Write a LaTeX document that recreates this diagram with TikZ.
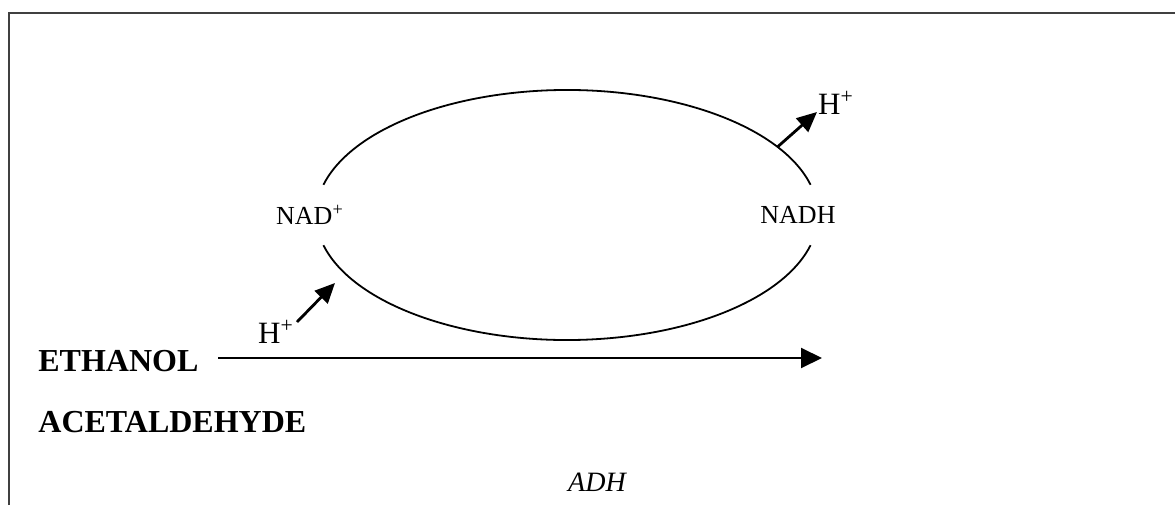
\documentclass[tikz,border=0pt]{standalone}
\usepackage{fontspec}
\setmainfont{Liberation Serif}
\usetikzlibrary{calc,arrows.meta}

\begin{document}
\begin{tikzpicture}[x=0.5pt,y=0.5pt,
     lbl/.style={inner sep=0pt,font=\fontsize{13}{15}\selectfont},
     hp/.style={inner sep=0pt,font=\fontsize{15.5}{18}\selectfont},
     sub/.style={inner sep=0pt,anchor=west,font=\fontsize{16}{19}\selectfont\bfseries},
     ha/.style={line width=1.4pt,-{Triangle[length=10pt,width=9pt]}}]
   \useasboundingbox (0,0) rectangle (1175,505);
   \draw[line width=0.6pt,black!75] (9,0) -- (9,492) -- (1175,492);
   % cycle of the cofactor
   \coordinate (c) at (567,290);
   \draw[line width=0.9pt] (c) ++(14:251 and 125) arc[start angle=14,end angle=166,x radius=251,y radius=125];
   \draw[line width=0.9pt] (c) ++(194:251 and 125) arc[start angle=194,end angle=346,x radius=251,y radius=125];
   \node[lbl] (nad) at (310,290) {NAD\textsuperscript{+}};
   \node[lbl] (nadh) at (798,290) {NADH};
   \node[hp] (hout) at (836,402) {H\textsuperscript{+}};
   \node[hp] (hin) at (276,173) {H\textsuperscript{+}};
   \coordinate (outs) at ($(c)+(33:251 and 125)$);
   \coordinate (outt) at (817,393);
   \coordinate (ins) at (297,183);
   \coordinate (int) at (335,222);
   \draw[ha] (outs) -- (outt);
   \draw[ha] (ins) -- (int);
   % substrate and product
   \node[sub] (eth) at (38,144) {ETHANOL};
   \node[sub] (ace) at (38,83) {ACETALDEHYDE};
   \coordinate (rxs) at (218,147);
   \coordinate (rxe) at (822,147);
   \draw[line width=1pt,-{Triangle[length=10.5pt,width=10pt]}] (rxs) -- (rxe);
   \node[inner sep=0pt,font=\fontsize{14}{17}\selectfont\itshape] (adh) at (597,23) {ADH};
\end{tikzpicture}
\end{document}
